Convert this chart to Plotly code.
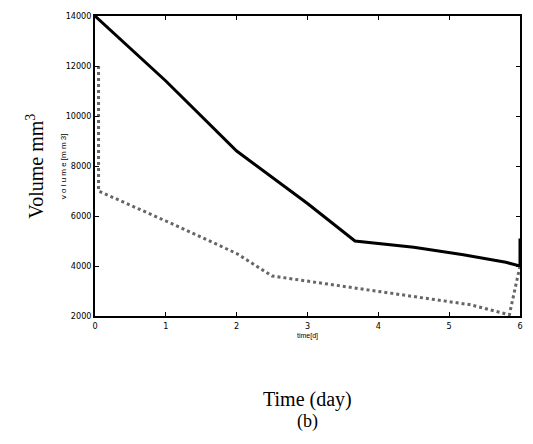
import plotly.graph_objects as go

solid_x = [0, 1, 2, 3, 3.67, 4.5, 5.2, 5.8, 6.0, 6.0]
solid_y = [14000, 11400, 8600, 6500, 5000, 4750, 4450, 4150, 4000, 5100]
dot_x = [0.05, 0.05, 1, 2, 2.5, 3.5, 4.5, 5.3, 5.85, 6.0]
dot_y = [12000, 7000, 5800, 4500, 3600, 3200, 2800, 2450, 2050, 4000]

fig = go.Figure()
fig.add_trace(go.Scatter(x=solid_x, y=solid_y, mode="lines", cliponaxis=False, line=dict(color="black", width=3)))
fig.add_trace(go.Scatter(x=dot_x, y=dot_y, mode="lines", cliponaxis=False, line=dict(color="#666666", width=3, dash="dot")))

ax = dict(showgrid=False, zeroline=False, showline=True, mirror="ticks", linecolor="black", linewidth=1.5,
          ticks="inside", ticklen=4, tickcolor="black", tickformat="d",
          tickfont=dict(family="DejaVu Sans Condensed, Liberation Sans", size=9, color="black"))
fig.update_xaxes(range=[0, 6], dtick=1, **ax)
fig.update_yaxes(range=[2000, 14000], dtick=2000, **ax)
fig.update_layout(width=518, height=436, plot_bgcolor="white", paper_bgcolor="white", showlegend=False,
                  margin=dict(l=87, r=3, t=7, b=128))
fig.add_annotation(x=0.5, y=-0.045, xref="paper", yref="paper", text="time[d]", showarrow=False,
                   yanchor="top", font=dict(family="Liberation Sans", size=7, color="black"))
fig.add_annotation(x=-0.09, y=0.5, xref="paper", yref="paper", text="v o l u m e [m m 3]", showarrow=False,
                   textangle=-90, font=dict(family="Liberation Sans", size=8, color="black"))
fig.add_annotation(x=-0.175, y=0.5, xref="paper", yref="paper", text="Volume mm<sup>3</sup>", showarrow=False,
                   textangle=-90, font=dict(family="Liberation Serif", size=20, color="black"))
fig.add_annotation(x=0.5, y=-0.235, xref="paper", yref="paper", text="Time (day)", showarrow=False,
                   yanchor="top", font=dict(family="Liberation Serif", size=20, color="black"))
fig.add_annotation(x=0.5, y=-0.31, xref="paper", yref="paper", text="(b)", showarrow=False,
                   yanchor="top", font=dict(family="Liberation Serif", size=18, color="black"))
fig.write_html("out.html")
